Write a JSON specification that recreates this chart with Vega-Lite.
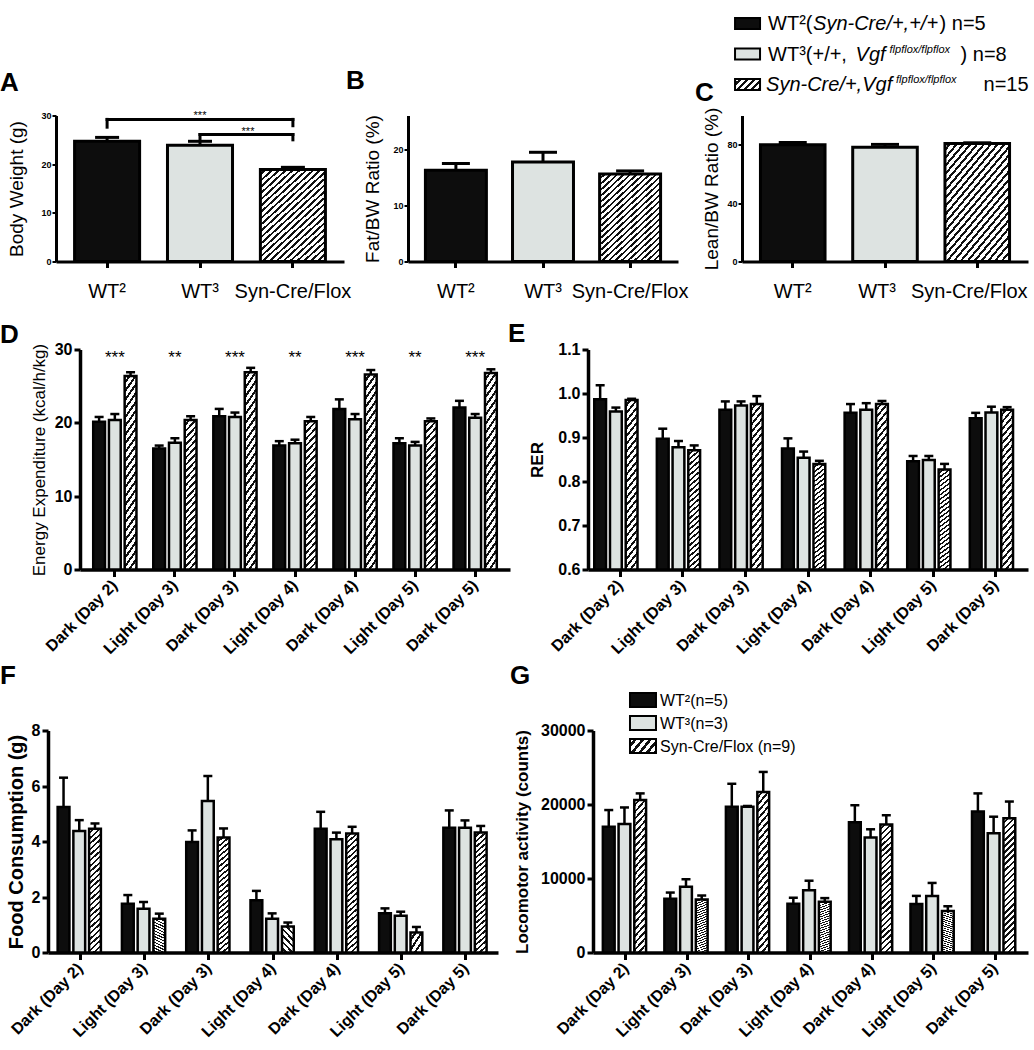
{
"$schema": "https://vega.github.io/schema/vega-lite/v6.json",
"padding": {"left": 0, "top": 13.5, "right": 0, "bottom": 0},
"background": "white",
"config": {
  "font": "Liberation Sans",
  "view": {"stroke": null},
  "axis": {"domainColor": "#000", "tickColor": "#000", "labelColor": "#000", "titleColor": "#000", "grid": false, "labelFont": "Liberation Sans", "titleFont": "Liberation Sans", "labelOverlap": false},
  "title": {"fontSize": 26, "fontWeight": "bold", "font": "Liberation Sans", "anchor": "start", "frame": "group", "baseline": "alphabetic", "color": "#000"},
  "text": {"font": "Liberation Sans", "color": "#000"}
},
"params": [
  {"name": "hatchTop", "value": {"gradient": "linear", "x1": 0, "y1": 0, "x2": 0.754, "y2": 1.16, "stops": [
{"offset":0,"color":"#fff"},{"offset":0.025,"color":"#fff"},{"offset":0.025,"color":"#111"},{"offset":0.0417,"color":"#111"},
{"offset":0.0417,"color":"#fff"},{"offset":0.0667,"color":"#fff"},{"offset":0.0667,"color":"#111"},{"offset":0.0833,"color":"#111"},
{"offset":0.0833,"color":"#fff"},{"offset":0.1083,"color":"#fff"},{"offset":0.1083,"color":"#111"},{"offset":0.125,"color":"#111"},
{"offset":0.125,"color":"#fff"},{"offset":0.15,"color":"#fff"},{"offset":0.15,"color":"#111"},{"offset":0.1667,"color":"#111"},
{"offset":0.1667,"color":"#fff"},{"offset":0.1917,"color":"#fff"},{"offset":0.1917,"color":"#111"},{"offset":0.2083,"color":"#111"},
{"offset":0.2083,"color":"#fff"},{"offset":0.2333,"color":"#fff"},{"offset":0.2333,"color":"#111"},{"offset":0.25,"color":"#111"},
{"offset":0.25,"color":"#fff"},{"offset":0.275,"color":"#fff"},{"offset":0.275,"color":"#111"},{"offset":0.2917,"color":"#111"},
{"offset":0.2917,"color":"#fff"},{"offset":0.3167,"color":"#fff"},{"offset":0.3167,"color":"#111"},{"offset":0.3333,"color":"#111"},
{"offset":0.3333,"color":"#fff"},{"offset":0.3583,"color":"#fff"},{"offset":0.3583,"color":"#111"},{"offset":0.375,"color":"#111"},
{"offset":0.375,"color":"#fff"},{"offset":0.4,"color":"#fff"},{"offset":0.4,"color":"#111"},{"offset":0.4167,"color":"#111"},
{"offset":0.4167,"color":"#fff"},{"offset":0.4417,"color":"#fff"},{"offset":0.4417,"color":"#111"},{"offset":0.4583,"color":"#111"},
{"offset":0.4583,"color":"#fff"},{"offset":0.4833,"color":"#fff"},{"offset":0.4833,"color":"#111"},{"offset":0.5,"color":"#111"},
{"offset":0.5,"color":"#fff"},{"offset":0.525,"color":"#fff"},{"offset":0.525,"color":"#111"},{"offset":0.5417,"color":"#111"},
{"offset":0.5417,"color":"#fff"},{"offset":0.5667,"color":"#fff"},{"offset":0.5667,"color":"#111"},{"offset":0.5833,"color":"#111"},
{"offset":0.5833,"color":"#fff"},{"offset":0.6083,"color":"#fff"},{"offset":0.6083,"color":"#111"},{"offset":0.625,"color":"#111"},
{"offset":0.625,"color":"#fff"},{"offset":0.65,"color":"#fff"},{"offset":0.65,"color":"#111"},{"offset":0.6667,"color":"#111"},
{"offset":0.6667,"color":"#fff"},{"offset":0.6917,"color":"#fff"},{"offset":0.6917,"color":"#111"},{"offset":0.7083,"color":"#111"},
{"offset":0.7083,"color":"#fff"},{"offset":0.7333,"color":"#fff"},{"offset":0.7333,"color":"#111"},{"offset":0.75,"color":"#111"},
{"offset":0.75,"color":"#fff"},{"offset":0.775,"color":"#fff"},{"offset":0.775,"color":"#111"},{"offset":0.7917,"color":"#111"},
{"offset":0.7917,"color":"#fff"},{"offset":0.8167,"color":"#fff"},{"offset":0.8167,"color":"#111"},{"offset":0.8333,"color":"#111"},
{"offset":0.8333,"color":"#fff"},{"offset":0.8583,"color":"#fff"},{"offset":0.8583,"color":"#111"},{"offset":0.875,"color":"#111"},
{"offset":0.875,"color":"#fff"},{"offset":0.9,"color":"#fff"},{"offset":0.9,"color":"#111"},{"offset":0.9167,"color":"#111"},
{"offset":0.9167,"color":"#fff"},{"offset":0.9417,"color":"#fff"},{"offset":0.9417,"color":"#111"},{"offset":0.9583,"color":"#111"},
{"offset":0.9583,"color":"#fff"},{"offset":0.9833,"color":"#fff"},{"offset":0.9833,"color":"#111"},{"offset":1,"color":"#111"}]}},
  {"name": "hatchLow", "value": {"gradient": "linear", "x1": 0, "y1": 0, "x2": 0.094, "y2": 1.079, "stops": [
{"offset":0,"color":"#fff"},{"offset":0.025,"color":"#fff"},{"offset":0.025,"color":"#111"},{"offset":0.0417,"color":"#111"},
{"offset":0.0417,"color":"#fff"},{"offset":0.0667,"color":"#fff"},{"offset":0.0667,"color":"#111"},{"offset":0.0833,"color":"#111"},
{"offset":0.0833,"color":"#fff"},{"offset":0.1083,"color":"#fff"},{"offset":0.1083,"color":"#111"},{"offset":0.125,"color":"#111"},
{"offset":0.125,"color":"#fff"},{"offset":0.15,"color":"#fff"},{"offset":0.15,"color":"#111"},{"offset":0.1667,"color":"#111"},
{"offset":0.1667,"color":"#fff"},{"offset":0.1917,"color":"#fff"},{"offset":0.1917,"color":"#111"},{"offset":0.2083,"color":"#111"},
{"offset":0.2083,"color":"#fff"},{"offset":0.2333,"color":"#fff"},{"offset":0.2333,"color":"#111"},{"offset":0.25,"color":"#111"},
{"offset":0.25,"color":"#fff"},{"offset":0.275,"color":"#fff"},{"offset":0.275,"color":"#111"},{"offset":0.2917,"color":"#111"},
{"offset":0.2917,"color":"#fff"},{"offset":0.3167,"color":"#fff"},{"offset":0.3167,"color":"#111"},{"offset":0.3333,"color":"#111"},
{"offset":0.3333,"color":"#fff"},{"offset":0.3583,"color":"#fff"},{"offset":0.3583,"color":"#111"},{"offset":0.375,"color":"#111"},
{"offset":0.375,"color":"#fff"},{"offset":0.4,"color":"#fff"},{"offset":0.4,"color":"#111"},{"offset":0.4167,"color":"#111"},
{"offset":0.4167,"color":"#fff"},{"offset":0.4417,"color":"#fff"},{"offset":0.4417,"color":"#111"},{"offset":0.4583,"color":"#111"},
{"offset":0.4583,"color":"#fff"},{"offset":0.4833,"color":"#fff"},{"offset":0.4833,"color":"#111"},{"offset":0.5,"color":"#111"},
{"offset":0.5,"color":"#fff"},{"offset":0.525,"color":"#fff"},{"offset":0.525,"color":"#111"},{"offset":0.5417,"color":"#111"},
{"offset":0.5417,"color":"#fff"},{"offset":0.5667,"color":"#fff"},{"offset":0.5667,"color":"#111"},{"offset":0.5833,"color":"#111"},
{"offset":0.5833,"color":"#fff"},{"offset":0.6083,"color":"#fff"},{"offset":0.6083,"color":"#111"},{"offset":0.625,"color":"#111"},
{"offset":0.625,"color":"#fff"},{"offset":0.65,"color":"#fff"},{"offset":0.65,"color":"#111"},{"offset":0.6667,"color":"#111"},
{"offset":0.6667,"color":"#fff"},{"offset":0.6917,"color":"#fff"},{"offset":0.6917,"color":"#111"},{"offset":0.7083,"color":"#111"},
{"offset":0.7083,"color":"#fff"},{"offset":0.7333,"color":"#fff"},{"offset":0.7333,"color":"#111"},{"offset":0.75,"color":"#111"},
{"offset":0.75,"color":"#fff"},{"offset":0.775,"color":"#fff"},{"offset":0.775,"color":"#111"},{"offset":0.7917,"color":"#111"},
{"offset":0.7917,"color":"#fff"},{"offset":0.8167,"color":"#fff"},{"offset":0.8167,"color":"#111"},{"offset":0.8333,"color":"#111"},
{"offset":0.8333,"color":"#fff"},{"offset":0.8583,"color":"#fff"},{"offset":0.8583,"color":"#111"},{"offset":0.875,"color":"#111"},
{"offset":0.875,"color":"#fff"},{"offset":0.9,"color":"#fff"},{"offset":0.9,"color":"#111"},{"offset":0.9167,"color":"#111"},
{"offset":0.9167,"color":"#fff"},{"offset":0.9417,"color":"#fff"},{"offset":0.9417,"color":"#111"},{"offset":0.9583,"color":"#111"},
{"offset":0.9583,"color":"#fff"},{"offset":0.9833,"color":"#fff"},{"offset":0.9833,"color":"#111"},{"offset":1,"color":"#111"}]}},
  {"name": "hatchSw", "value": {"gradient": "linear", "x1": 0, "y1": 0, "x2": 1.208, "y2": 0.532, "stops": [
{"offset":0,"color":"#fff"},{"offset":0.11,"color":"#fff"},{"offset":0.11,"color":"#111"},{"offset":0.2,"color":"#111"},
{"offset":0.2,"color":"#fff"},{"offset":0.31,"color":"#fff"},{"offset":0.31,"color":"#111"},{"offset":0.4,"color":"#111"},
{"offset":0.4,"color":"#fff"},{"offset":0.51,"color":"#fff"},{"offset":0.51,"color":"#111"},{"offset":0.6,"color":"#111"},
{"offset":0.6,"color":"#fff"},{"offset":0.71,"color":"#fff"},{"offset":0.71,"color":"#111"},{"offset":0.8,"color":"#111"},
{"offset":0.8,"color":"#fff"},{"offset":0.91,"color":"#fff"},{"offset":0.91,"color":"#111"},{"offset":1,"color":"#111"}]}}
],
"datasets": {
  "bw": [
    {"lab": "WT²", "g": "WT2", "v": 24.7, "hi": 25.5},
    {"lab": "WT³", "g": "WT3", "v": 23.9, "hi": 24.7},
    {"lab": "Syn-Cre/Flox", "g": "KO", "v": 18.9, "hi": 19.35}
  ],
  "fat": [
    {"lab": "WT²", "g": "WT2", "v": 16.25, "hi": 17.45},
    {"lab": "WT³", "g": "WT3", "v": 17.73, "hi": 19.45},
    {"lab": "Syn-Cre/Flox", "g": "KO", "v": 15.56, "hi": 16.13}
  ],
  "lean": [
    {"lab": "WT²", "g": "WT2", "v": 80.0, "hi": 81.5},
    {"lab": "WT³", "g": "WT3", "v": 78.3, "hi": 80.2},
    {"lab": "Syn-Cre/Flox", "g": "KO", "v": 80.8, "hi": 81.3}
  ],
  "bwBrH": [
    {"a": "WT²", "b": "Syn-Cre/Flox", "y": 29.2},
    {"a": "WT³", "b": "Syn-Cre/Flox", "y": 26.1}
  ],
  "bwBrV": [
    {"a": "WT²", "top": 29.2, "bot": 27.6},
    {"a": "Syn-Cre/Flox", "top": 29.2, "bot": 27.9},
    {"a": "WT³", "top": 26.1, "bot": 25.0},
    {"a": "Syn-Cre/Flox", "top": 26.1, "bot": 25.0}
  ],
  "bwStar": [
    {"a": "WT³", "y": 29.2, "s": "***", "n": 1},
    {"a": "WT³", "y": 26.1, "s": "***", "n": 2}
  ],
  "legT": [
    {"k": "WT2", "t1": "WT²(", "it": "Syn-Cre/+,+/+", "t3": ") n=5"},
    {"k": "WT3", "t1": "WT³(+/+,", "it": "Vgf", "sup": "flpflox/flpflox", "t3": ") n=8"},
    {"k": "KO", "it": "Syn-Cre/+,Vgf", "sup": "flpflox/flpflox", "t3": "n=15"}
  ],
  "legG": [
    {"k": "WT2", "t": "WT²(n=5)"},
    {"k": "WT3", "t": "WT³(n=3)"},
    {"k": "KO", "t": "Syn-Cre/Flox (n=9)"}
  ],
  "ee": [
    {"p": "Dark (Day 2)", "g": "WT2", "v": 20.15, "hi": 20.8},
    {"p": "Dark (Day 2)", "g": "WT3", "v": 20.4, "hi": 21.2},
    {"p": "Dark (Day 2)", "g": "KO", "v": 26.4, "hi": 26.9},
    {"p": "Light (Day 3)", "g": "WT2", "v": 16.5, "hi": 16.9},
    {"p": "Light (Day 3)", "g": "WT3", "v": 17.3, "hi": 17.9},
    {"p": "Light (Day 3)", "g": "KO", "v": 20.4, "hi": 20.9},
    {"p": "Dark (Day 3)", "g": "WT2", "v": 20.9, "hi": 21.9},
    {"p": "Dark (Day 3)", "g": "WT3", "v": 20.8, "hi": 21.4},
    {"p": "Dark (Day 3)", "g": "KO", "v": 26.9, "hi": 27.5},
    {"p": "Light (Day 4)", "g": "WT2", "v": 16.9, "hi": 17.5},
    {"p": "Light (Day 4)", "g": "WT3", "v": 17.2, "hi": 17.7},
    {"p": "Light (Day 4)", "g": "KO", "v": 20.2, "hi": 20.8},
    {"p": "Dark (Day 4)", "g": "WT2", "v": 21.9, "hi": 23.2},
    {"p": "Dark (Day 4)", "g": "WT3", "v": 20.5, "hi": 21.2},
    {"p": "Dark (Day 4)", "g": "KO", "v": 26.6, "hi": 27.2},
    {"p": "Light (Day 5)", "g": "WT2", "v": 17.2, "hi": 17.9},
    {"p": "Light (Day 5)", "g": "WT3", "v": 16.9, "hi": 17.4},
    {"p": "Light (Day 5)", "g": "KO", "v": 20.2, "hi": 20.6},
    {"p": "Dark (Day 5)", "g": "WT2", "v": 22.1, "hi": 23.0},
    {"p": "Dark (Day 5)", "g": "WT3", "v": 20.7, "hi": 21.2},
    {"p": "Dark (Day 5)", "g": "KO", "v": 26.8, "hi": 27.3}
  ],
  "eeSig": [
    {"p": "Dark (Day 2)", "s": "***"},
    {"p": "Light (Day 3)", "s": "**"},
    {"p": "Dark (Day 3)", "s": "***"},
    {"p": "Light (Day 4)", "s": "**"},
    {"p": "Dark (Day 4)", "s": "***"},
    {"p": "Light (Day 5)", "s": "**"},
    {"p": "Dark (Day 5)", "s": "***"}
  ],
  "rer": [
    {"p": "Dark (Day 2)", "g": "WT2", "v": 0.987, "hi": 1.019},
    {"p": "Dark (Day 2)", "g": "WT3", "v": 0.959, "hi": 0.968},
    {"p": "Dark (Day 2)", "g": "KO", "v": 0.985, "hi": 0.988},
    {"p": "Light (Day 3)", "g": "WT2", "v": 0.897, "hi": 0.920},
    {"p": "Light (Day 3)", "g": "WT3", "v": 0.878, "hi": 0.892},
    {"p": "Light (Day 3)", "g": "KO", "v": 0.871, "hi": 0.882},
    {"p": "Dark (Day 3)", "g": "WT2", "v": 0.963, "hi": 0.982},
    {"p": "Dark (Day 3)", "g": "WT3", "v": 0.973, "hi": 0.982},
    {"p": "Dark (Day 3)", "g": "KO", "v": 0.976, "hi": 0.994},
    {"p": "Light (Day 4)", "g": "WT2", "v": 0.875, "hi": 0.898},
    {"p": "Light (Day 4)", "g": "WT3", "v": 0.854, "hi": 0.868},
    {"p": "Light (Day 4)", "g": "KO", "v": 0.840, "hi": 0.847},
    {"p": "Dark (Day 4)", "g": "WT2", "v": 0.956, "hi": 0.976},
    {"p": "Dark (Day 4)", "g": "WT3", "v": 0.963, "hi": 0.978},
    {"p": "Dark (Day 4)", "g": "KO", "v": 0.976, "hi": 0.983},
    {"p": "Light (Day 5)", "g": "WT2", "v": 0.846, "hi": 0.858},
    {"p": "Light (Day 5)", "g": "WT3", "v": 0.849, "hi": 0.858},
    {"p": "Light (Day 5)", "g": "KO", "v": 0.827, "hi": 0.840},
    {"p": "Dark (Day 5)", "g": "WT2", "v": 0.944, "hi": 0.956},
    {"p": "Dark (Day 5)", "g": "WT3", "v": 0.957, "hi": 0.970},
    {"p": "Dark (Day 5)", "g": "KO", "v": 0.963, "hi": 0.969}
  ],
  "food": [
    {"p": "Dark (Day 2)", "g": "WT2", "v": 5.24, "hi": 6.3},
    {"p": "Dark (Day 2)", "g": "WT3", "v": 4.38, "hi": 4.77},
    {"p": "Dark (Day 2)", "g": "KO", "v": 4.46, "hi": 4.65},
    {"p": "Light (Day 3)", "g": "WT2", "v": 1.76, "hi": 2.07},
    {"p": "Light (Day 3)", "g": "WT3", "v": 1.58, "hi": 1.82},
    {"p": "Light (Day 3)", "g": "KO", "v": 1.22, "hi": 1.40},
    {"p": "Dark (Day 3)", "g": "WT2", "v": 3.98, "hi": 4.40},
    {"p": "Dark (Day 3)", "g": "WT3", "v": 5.46, "hi": 6.36},
    {"p": "Dark (Day 3)", "g": "KO", "v": 4.14, "hi": 4.47},
    {"p": "Light (Day 4)", "g": "WT2", "v": 1.88, "hi": 2.22},
    {"p": "Light (Day 4)", "g": "WT3", "v": 1.22, "hi": 1.41},
    {"p": "Light (Day 4)", "g": "KO", "v": 0.94, "hi": 1.08},
    {"p": "Dark (Day 4)", "g": "WT2", "v": 4.46, "hi": 5.07},
    {"p": "Dark (Day 4)", "g": "WT3", "v": 4.08, "hi": 4.32},
    {"p": "Dark (Day 4)", "g": "KO", "v": 4.29, "hi": 4.53},
    {"p": "Light (Day 5)", "g": "WT2", "v": 1.41, "hi": 1.59},
    {"p": "Light (Day 5)", "g": "WT3", "v": 1.32, "hi": 1.47},
    {"p": "Light (Day 5)", "g": "KO", "v": 0.72, "hi": 0.92},
    {"p": "Dark (Day 5)", "g": "WT2", "v": 4.5, "hi": 5.12},
    {"p": "Dark (Day 5)", "g": "WT3", "v": 4.5, "hi": 4.76},
    {"p": "Dark (Day 5)", "g": "KO", "v": 4.32, "hi": 4.56}
  ],
  "loco": [
    {"p": "Dark (Day 2)", "g": "WT2", "v": 17000, "hi": 19250},
    {"p": "Dark (Day 2)", "g": "WT3", "v": 17350, "hi": 19600},
    {"p": "Dark (Day 2)", "g": "KO", "v": 20600, "hi": 21500},
    {"p": "Light (Day 3)", "g": "WT2", "v": 7250, "hi": 8100},
    {"p": "Light (Day 3)", "g": "WT3", "v": 8900, "hi": 9900},
    {"p": "Light (Day 3)", "g": "KO", "v": 7150, "hi": 7700},
    {"p": "Dark (Day 3)", "g": "WT2", "v": 19700, "hi": 22800},
    {"p": "Dark (Day 3)", "g": "WT3", "v": 19700, "hi": 19800},
    {"p": "Dark (Day 3)", "g": "KO", "v": 21700, "hi": 24400},
    {"p": "Light (Day 4)", "g": "WT2", "v": 6600, "hi": 7400},
    {"p": "Light (Day 4)", "g": "WT3", "v": 8400, "hi": 9700},
    {"p": "Light (Day 4)", "g": "KO", "v": 6850, "hi": 7350},
    {"p": "Dark (Day 4)", "g": "WT2", "v": 17600, "hi": 19900},
    {"p": "Dark (Day 4)", "g": "WT3", "v": 15550, "hi": 16650},
    {"p": "Dark (Day 4)", "g": "KO", "v": 17300, "hi": 18550},
    {"p": "Light (Day 5)", "g": "WT2", "v": 6550, "hi": 7650},
    {"p": "Light (Day 5)", "g": "WT3", "v": 7650, "hi": 9400},
    {"p": "Light (Day 5)", "g": "KO", "v": 5600, "hi": 6250},
    {"p": "Dark (Day 5)", "g": "WT2", "v": 19050, "hi": 21500},
    {"p": "Dark (Day 5)", "g": "WT3", "v": 16100, "hi": 18350},
    {"p": "Dark (Day 5)", "g": "KO", "v": 18150, "hi": 20400}
  ]
},
"spacing": 19,
"vconcat": [
 {"hconcat": [
  {"width": 56, "height": 1, "data": {"values": [{}]}, "mark": {"type": "rect", "opacity": 0}, "encoding": {}},
  {"hconcat": [
  {"width": 288, "height": 146,
   "title": {"text": "A", "dx": -56, "offset": 14},
   "layer": [
    {"data": {"name": "bw"}, "transform": [{"filter": "datum.g !== 'KO'"}],
     "mark": {"type": "bar", "stroke": "#000", "strokeWidth": 3},
     "encoding": {
      "x": {"field": "lab", "type": "nominal", "scale": {"domain": ["WT²", "WT³", "Syn-Cre/Flox"], "paddingInner": 0.3, "paddingOuter": 0.2},
            "axis": {"title": null, "labelAngle": 0, "labelFontSize": 20, "labelPadding": 14, "tickSize": 6, "tickWidth": 3, "domainWidth": 3}},
      "y": {"field": "v", "type": "quantitative", "scale": {"domain": [0, 30]},
            "axis": {"title": "Body Weight (g)", "titleFontSize": 19, "titleFontWeight": "normal", "titlePadding": 14.5, "labelFontSize": 9, "labelFontWeight": "bold", "labelPadding": 1, "tickSize": 4, "tickWidth": 2, "domainWidth": 3, "values": [0, 10, 20, 30]}},
      "fill": {"condition": {"test": "datum.g === 'WT2'", "value": "#0d0d0d"}, "value": "#dde3e1"}}},
    {"data": {"name": "bw"}, "transform": [{"filter": "datum.g === 'KO'"}],
     "mark": {"type": "bar", "stroke": "#000", "strokeWidth": 3, "fill": {"expr": "hatchTop"}},
     "encoding": {"x": {"field": "lab", "type": "nominal"}, "y": {"field": "v", "type": "quantitative"}}},
    {"data": {"name": "bw"}, "mark": {"type": "rule", "color": "#000", "strokeWidth": 3},
     "encoding": {"x": {"field": "lab", "type": "nominal"}, "y": {"field": "v", "type": "quantitative"}, "y2": {"field": "hi"}}},
    {"data": {"name": "bw"}, "mark": {"type": "tick", "color": "#000", "thickness": 3, "size": 24, "opacity": 1},
     "encoding": {"x": {"field": "lab", "type": "nominal"}, "y": {"field": "hi", "type": "quantitative"}}},
    {"data": {"name": "bwBrH"}, "mark": {"type": "rule", "color": "#000", "strokeWidth": 3, "strokeCap": "square"},
     "encoding": {"x": {"field": "a", "type": "nominal"}, "x2": {"field": "b"}, "y": {"field": "y", "type": "quantitative"}}},
    {"data": {"name": "bwBrV"}, "mark": {"type": "rule", "color": "#000", "strokeWidth": 3, "strokeCap": "square"},
     "encoding": {"x": {"field": "a", "type": "nominal"}, "y": {"field": "top", "type": "quantitative"}, "y2": {"field": "bot"}}},
    {"data": {"name": "bwStar"}, "transform": [{"filter": "datum.n === 1"}],
     "mark": {"type": "text", "fontSize": 11, "baseline": "alphabetic", "dy": 0},
     "encoding": {"x": {"field": "a", "type": "nominal"}, "y": {"field": "y", "type": "quantitative"}, "text": {"field": "s"}}},
    {"data": {"name": "bwStar"}, "transform": [{"filter": "datum.n === 2"}],
     "mark": {"type": "text", "fontSize": 11, "baseline": "alphabetic", "dx": 48, "dy": 1},
     "encoding": {"x": {"field": "a", "type": "nominal"}, "y": {"field": "y", "type": "quantitative"}, "text": {"field": "s"}}}
   ]},
  {"width": 270, "height": 146,
   "title": {"text": "B", "dx": -62, "offset": 21},
   "layer": [
    {"data": {"name": "fat"}, "transform": [{"filter": "datum.g !== 'KO'"}],
     "mark": {"type": "bar", "stroke": "#000", "strokeWidth": 3},
     "encoding": {
      "x": {"field": "lab", "type": "nominal", "scale": {"domain": ["WT²", "WT³", "Syn-Cre/Flox"], "paddingInner": 0.3, "paddingOuter": 0.2},
            "axis": {"title": null, "labelAngle": 0, "labelFontSize": 20, "labelPadding": 14, "tickSize": 6, "tickWidth": 3, "domainWidth": 3}},
      "y": {"field": "v", "type": "quantitative", "scale": {"domain": [0, 25]},
            "axis": {"title": "Fat/BW Ratio (%)", "titleFontSize": 19, "titleFontWeight": "normal", "titlePadding": 10.5, "labelFontSize": 9, "labelFontWeight": "bold", "labelPadding": 1, "tickSize": 4, "tickWidth": 2, "domainWidth": 3, "values": [0, 5, 10, 15, 20, 25]}},
      "fill": {"condition": {"test": "datum.g === 'WT2'", "value": "#0d0d0d"}, "value": "#dde3e1"}}},
    {"data": {"name": "fat"}, "transform": [{"filter": "datum.g === 'KO'"}],
     "mark": {"type": "bar", "stroke": "#000", "strokeWidth": 3, "fill": {"expr": "hatchTop"}},
     "encoding": {"x": {"field": "lab", "type": "nominal"}, "y": {"field": "v", "type": "quantitative"}}},
    {"data": {"name": "fat"}, "mark": {"type": "rule", "color": "#000", "strokeWidth": 3},
     "encoding": {"x": {"field": "lab", "type": "nominal"}, "y": {"field": "v", "type": "quantitative"}, "y2": {"field": "hi"}}},
    {"data": {"name": "fat"}, "mark": {"type": "tick", "color": "#000", "thickness": 3, "size": 28, "opacity": 1},
     "encoding": {"x": {"field": "lab", "type": "nominal"}, "y": {"field": "hi", "type": "quantitative"}}}
   ]},
  {"width": 286, "height": 146,
   "title": {"text": "C", "dx": -47, "offset": -91.5},
   "resolve": {"scale": {"y": "independent"}},
   "layer": [
    {"data": {"name": "lean"},
     "layer": [
      {"transform": [{"filter": "datum.g !== 'KO'"}],
       "mark": {"type": "bar", "stroke": "#000", "strokeWidth": 3},
       "encoding": {
        "x": {"field": "lab", "type": "nominal", "scale": {"domain": ["WT²", "WT³", "Syn-Cre/Flox"], "paddingInner": 0.3, "paddingOuter": 0.2},
              "axis": {"title": null, "labelAngle": 0, "labelFontSize": 20, "labelPadding": 14, "tickSize": 6, "tickWidth": 3, "domainWidth": 3,
                       "labelOffset": {"condition": {"test": "datum.label !== 'WT²'", "value": -8}, "value": 0}}},
        "y": {"field": "v", "type": "quantitative", "scale": {"domain": [0, 100]},
              "axis": {"title": "Lean/BW Ratio (%)", "titleFontSize": 19, "titleFontWeight": "normal", "titlePadding": 5.5, "labelFontSize": 9, "labelFontWeight": "bold", "labelPadding": 1, "tickSize": 4, "tickWidth": 2, "domainWidth": 3, "values": [0, 20, 40, 60, 80, 100]}},
        "fill": {"condition": {"test": "datum.g === 'WT2'", "value": "#0d0d0d"}, "value": "#dde3e1"}}},
      {"transform": [{"filter": "datum.g === 'KO'"}],
       "mark": {"type": "bar", "stroke": "#000", "strokeWidth": 3, "fill": {"expr": "hatchTop"}},
       "encoding": {"x": {"field": "lab", "type": "nominal"}, "y": {"field": "v", "type": "quantitative"}}},
      {"mark": {"type": "rule", "color": "#000", "strokeWidth": 3},
       "encoding": {"x": {"field": "lab", "type": "nominal"}, "y": {"field": "v", "type": "quantitative"}, "y2": {"field": "hi"}}},
      {"mark": {"type": "tick", "color": "#000", "thickness": 3, "size": 28, "opacity": 1},
       "encoding": {"x": {"field": "lab", "type": "nominal"}, "y": {"field": "hi", "type": "quantitative"}}}
     ]},
    {"data": {"name": "legT"},
     "encoding": {
      "x": {"datum": "WT²", "type": "nominal", "bandPosition": -0.2},
      "y": {"field": "k", "type": "nominal", "scale": {"type": "point", "domain": ["WT2", "WT3", "KO"], "range": [-92, -31], "padding": 0}, "axis": null}},
     "layer": [
      {"transform": [{"filter": "datum.k !== 'KO'"}],
       "mark": {"type": "point", "shape": "M-1,-0.44H1V0.44H-1Z", "size": 625, "filled": true, "stroke": "#000", "strokeWidth": 2, "opacity": 1},
       "encoding": {"fill": {"condition": {"test": "datum.k === 'WT2'", "value": "#0d0d0d"}, "value": "#dde3e1"}}},
      {"transform": [{"filter": "datum.k === 'KO'"}],
       "mark": {"type": "point", "shape": "M-1,-0.44H1V0.44H-1Z", "size": 625, "filled": true, "stroke": "#000", "strokeWidth": 2, "opacity": 1, "fill": {"expr": "hatchSw"}}},
      {"transform": [{"filter": "datum.t1"}],
       "mark": {"type": "text", "fontSize": 20, "align": "left", "baseline": "alphabetic", "dx": 20.5, "dy": 6.5},
       "encoding": {"text": {"field": "t1"}}},
      {"transform": [{"filter": "datum.k === 'WT2'"}],
       "mark": {"type": "text", "fontSize": 20, "fontStyle": "italic", "align": "left", "baseline": "alphabetic", "dx": 65.5, "dy": 6.5},
       "encoding": {"text": {"field": "it"}}},
      {"transform": [{"filter": "datum.k === 'WT3'"}],
       "mark": {"type": "text", "fontSize": 20, "fontStyle": "italic", "align": "left", "baseline": "alphabetic", "dx": 108, "dy": 6.5},
       "encoding": {"text": {"field": "it"}}},
      {"transform": [{"filter": "datum.k === 'KO'"}],
       "mark": {"type": "text", "fontSize": 20, "fontStyle": "italic", "align": "left", "baseline": "alphabetic", "dx": 18.5, "dy": 6.5},
       "encoding": {"text": {"field": "it"}}},
      {"transform": [{"filter": "datum.k === 'WT3'"}],
       "mark": {"type": "text", "fontSize": 11, "fontStyle": "italic", "align": "left", "baseline": "alphabetic", "dx": 142, "dy": -1.5},
       "encoding": {"text": {"field": "sup"}}},
      {"transform": [{"filter": "datum.k === 'KO'"}],
       "mark": {"type": "text", "fontSize": 11, "fontStyle": "italic", "align": "left", "baseline": "alphabetic", "dx": 148.5, "dy": -1.5},
       "encoding": {"text": {"field": "sup"}}},
      {"transform": [{"filter": "datum.k === 'WT2'"}],
       "mark": {"type": "text", "fontSize": 20, "align": "left", "baseline": "alphabetic", "dx": 192, "dy": 6.5},
       "encoding": {"text": {"field": "t3"}}},
      {"transform": [{"filter": "datum.k === 'WT3'"}],
       "mark": {"type": "text", "fontSize": 20, "align": "left", "baseline": "alphabetic", "dx": 213, "dy": 6.5},
       "encoding": {"text": {"field": "t3"}}},
      {"transform": [{"filter": "datum.k === 'KO'"}],
       "mark": {"type": "text", "fontSize": 20, "align": "left", "baseline": "alphabetic", "dx": 236, "dy": 6.5},
       "encoding": {"text": {"field": "t3"}}}
     ]}
   ]}
  ], "spacing": 64, "bounds": "flush"}
 ], "spacing": 0, "bounds": "flush"},
 {"vconcat": [
  {"hconcat": [
   {"width": 80, "height": 1, "data": {"values": [{}]}, "mark": {"type": "rect", "opacity": 0}, "encoding": {}},
   {"hconcat": [
   {"width": 430, "height": 220,
    "title": {"text": "D", "dx": -80, "offset": -6},
    "layer": [
     {"data": {"name": "ee"}, "transform": [{"filter": "datum.g !== 'KO'"}],
      "mark": {"type": "bar", "stroke": "#000", "strokeWidth": 2.5},
      "encoding": {
       "x": {"field": "p", "type": "nominal", "scale": {"domain": ["Dark (Day 2)", "Light (Day 3)", "Dark (Day 3)", "Light (Day 4)", "Dark (Day 4)", "Light (Day 5)", "Dark (Day 5)"], "paddingInner": 0.28, "paddingOuter": 0.22},
             "axis": {"title": null, "labelAngle": -45, "labelAlign": "right", "labelBaseline": "middle", "labelFontSize": 16, "labelFontWeight": "bold", "labelPadding": 6, "tickSize": 7, "tickWidth": 3, "domainWidth": 3.5}},
       "xOffset": {"field": "g", "type": "nominal", "scale": {"domain": ["WT2", "WT3", "KO"], "paddingInner": 0.25, "paddingOuter": 0}},
       "y": {"field": "v", "type": "quantitative", "scale": {"domain": [0, 30]},
             "axis": {"title": "Energy Expenditure (kcal/h/kg)", "titleFontSize": 17, "titleFontWeight": "normal", "titlePadding": 5.7, "labelFontSize": 16, "labelFontWeight": "bold", "labelPadding": 2, "tickSize": 6, "tickWidth": 3, "domainWidth": 3.5, "values": [0, 10, 20, 30]}},
       "fill": {"condition": {"test": "datum.g === 'WT2'", "value": "#0d0d0d"}, "value": "#dde3e1"}}},
     {"data": {"name": "ee"}, "transform": [{"filter": "datum.g === 'KO'"}],
      "mark": {"type": "bar", "stroke": "#000", "strokeWidth": 2.5, "fill": {"expr": "hatchLow"}},
      "encoding": {"x": {"field": "p", "type": "nominal"}, "xOffset": {"field": "g", "type": "nominal"}, "y": {"field": "v", "type": "quantitative"}}},
     {"data": {"name": "ee"}, "mark": {"type": "rule", "color": "#000", "strokeWidth": 2.5},
      "encoding": {"x": {"field": "p", "type": "nominal"}, "xOffset": {"field": "g", "type": "nominal"}, "y": {"field": "v", "type": "quantitative"}, "y2": {"field": "hi"}}},
     {"data": {"name": "ee"}, "mark": {"type": "tick", "color": "#000", "thickness": 2.5, "size": 9, "opacity": 1},
      "encoding": {"x": {"field": "p", "type": "nominal"}, "xOffset": {"field": "g", "type": "nominal"}, "y": {"field": "hi", "type": "quantitative"}}},
     {"data": {"name": "eeSig"}, "mark": {"type": "text", "fontSize": 17, "baseline": "alphabetic"},
      "encoding": {"x": {"field": "p", "type": "nominal"}, "y": {"datum": 28.2}, "text": {"field": "s"}}}
    ]},
   {"width": 440, "height": 220,
    "title": {"text": "E", "dx": -80, "offset": -5},
    "layer": [
     {"data": {"name": "rer"}, "transform": [{"filter": "datum.g !== 'KO'"}],
      "mark": {"type": "bar", "stroke": "#000", "strokeWidth": 2.5},
      "encoding": {
       "x": {"field": "p", "type": "nominal", "scale": {"domain": ["Dark (Day 2)", "Light (Day 3)", "Dark (Day 3)", "Light (Day 4)", "Dark (Day 4)", "Light (Day 5)", "Dark (Day 5)"], "paddingInner": 0.17, "paddingOuter": 0.1},
             "axis": {"title": null, "labelAngle": -45, "labelAlign": "right", "labelBaseline": "middle", "labelFontSize": 16, "labelFontWeight": "bold", "labelPadding": 6, "tickSize": 7, "tickWidth": 3, "domainWidth": 3.5}},
       "xOffset": {"field": "g", "type": "nominal", "scale": {"domain": ["WT2", "WT3", "KO"], "paddingInner": 0.2, "paddingOuter": 0}},
       "y": {"field": "v", "type": "quantitative", "scale": {"domain": [0.6, 1.1]},
             "axis": {"title": "RER", "titleFontSize": 17, "titleFontWeight": "bold", "titlePadding": 11.5, "labelFontSize": 16, "labelFontWeight": "bold", "labelPadding": 2, "tickSize": 6, "tickWidth": 3, "domainWidth": 3.5, "values": [0.6, 0.7, 0.8, 0.9, 1.0, 1.1], "format": ".1f"}},
       "y2": {"datum": 0.6},
       "fill": {"condition": {"test": "datum.g === 'WT2'", "value": "#0d0d0d"}, "value": "#dde3e1"}}},
     {"data": {"name": "rer"}, "transform": [{"filter": "datum.g === 'KO'"}],
      "mark": {"type": "bar", "stroke": "#000", "strokeWidth": 2.5, "fill": {"expr": "hatchLow"}},
      "encoding": {"x": {"field": "p", "type": "nominal"}, "xOffset": {"field": "g", "type": "nominal"}, "y": {"field": "v", "type": "quantitative"}, "y2": {"datum": 0.6}}},
     {"data": {"name": "rer"}, "mark": {"type": "rule", "color": "#000", "strokeWidth": 2.5},
      "encoding": {"x": {"field": "p", "type": "nominal"}, "xOffset": {"field": "g", "type": "nominal"}, "y": {"field": "v", "type": "quantitative"}, "y2": {"field": "hi"}}},
     {"data": {"name": "rer"}, "mark": {"type": "tick", "color": "#000", "thickness": 2.5, "size": 9, "opacity": 1},
      "encoding": {"x": {"field": "p", "type": "nominal"}, "xOffset": {"field": "g", "type": "nominal"}, "y": {"field": "hi", "type": "quantitative"}}}
    ]}
   ], "spacing": 78, "bounds": "flush"}
  ], "spacing": 0, "bounds": "flush"},
  {"hconcat": [
   {"width": 48, "height": 1, "data": {"values": [{}]}, "mark": {"type": "rect", "opacity": 0}, "encoding": {}},
   {"hconcat": [
   {"width": 450, "height": 222,
    "title": {"text": "F", "dx": -48, "offset": 34},
    "layer": [
     {"data": {"name": "food"}, "transform": [{"filter": "datum.g !== 'KO'"}],
      "mark": {"type": "bar", "stroke": "#000", "strokeWidth": 2.5},
      "encoding": {
       "x": {"field": "p", "type": "nominal", "scale": {"domain": ["Dark (Day 2)", "Light (Day 3)", "Dark (Day 3)", "Light (Day 4)", "Dark (Day 4)", "Light (Day 5)", "Dark (Day 5)"], "paddingInner": 0.3, "paddingOuter": 0.15},
             "axis": {"title": null, "labelAngle": -45, "labelAlign": "right", "labelBaseline": "middle", "labelFontSize": 16, "labelFontWeight": "bold", "labelPadding": 6, "tickSize": 7, "tickWidth": 3, "domainWidth": 3.5}},
       "xOffset": {"field": "g", "type": "nominal", "scale": {"domain": ["WT2", "WT3", "KO"], "paddingInner": 0.22, "paddingOuter": 0}},
       "y": {"field": "v", "type": "quantitative", "scale": {"domain": [0, 8]},
             "axis": {"title": "Food Consumption (g)", "titleFontSize": 20, "titleFontWeight": "bold", "titlePadding": 5, "labelFontSize": 16, "labelFontWeight": "bold", "labelPadding": 2, "tickSize": 6, "tickWidth": 3, "domainWidth": 3.5, "values": [0, 2, 4, 6, 8]}},
       "fill": {"condition": {"test": "datum.g === 'WT2'", "value": "#0d0d0d"}, "value": "#dde3e1"}}},
     {"data": {"name": "food"}, "transform": [{"filter": "datum.g === 'KO'"}],
      "mark": {"type": "bar", "stroke": "#000", "strokeWidth": 2.5, "fill": {"expr": "hatchLow"}},
      "encoding": {"x": {"field": "p", "type": "nominal"}, "xOffset": {"field": "g", "type": "nominal"}, "y": {"field": "v", "type": "quantitative"}}},
     {"data": {"name": "food"}, "mark": {"type": "rule", "color": "#000", "strokeWidth": 2.5},
      "encoding": {"x": {"field": "p", "type": "nominal"}, "xOffset": {"field": "g", "type": "nominal"}, "y": {"field": "v", "type": "quantitative"}, "y2": {"field": "hi"}}},
     {"data": {"name": "food"}, "mark": {"type": "tick", "color": "#000", "thickness": 2.5, "size": 9, "opacity": 1},
      "encoding": {"x": {"field": "p", "type": "nominal"}, "xOffset": {"field": "g", "type": "nominal"}, "y": {"field": "hi", "type": "quantitative"}}}
    ]},
   {"width": 435, "height": 222,
    "title": {"text": "G", "dx": -83, "offset": 0},
    "resolve": {"scale": {"y": "independent"}},
    "layer": [
     {"data": {"name": "loco"},
      "layer": [
       {"transform": [{"filter": "datum.g !== 'KO'"}],
        "mark": {"type": "bar", "stroke": "#000", "strokeWidth": 2.5},
        "encoding": {
         "x": {"field": "p", "type": "nominal", "scale": {"domain": ["Dark (Day 2)", "Light (Day 3)", "Dark (Day 3)", "Light (Day 4)", "Dark (Day 4)", "Light (Day 5)", "Dark (Day 5)"], "paddingInner": 0.25, "paddingOuter": 0.16},
               "axis": {"title": null, "labelAngle": -45, "labelAlign": "right", "labelBaseline": "middle", "labelFontSize": 16, "labelFontWeight": "bold", "labelPadding": 6, "tickSize": 7, "tickWidth": 3, "domainWidth": 3.5}},
         "xOffset": {"field": "g", "type": "nominal", "scale": {"domain": ["WT2", "WT3", "KO"], "paddingInner": 0.22, "paddingOuter": 0}},
         "y": {"field": "v", "type": "quantitative", "scale": {"domain": [0, 30000]},
               "axis": {"title": "Locomotor activity (counts)", "titleFontSize": 17, "titleFontWeight": "bold", "titlePadding": 9, "labelFontSize": 16, "labelFontWeight": "bold", "labelPadding": 2, "tickSize": 6, "tickWidth": 3, "domainWidth": 3.5, "values": [0, 10000, 20000, 30000], "format": "d"}},
         "fill": {"condition": {"test": "datum.g === 'WT2'", "value": "#0d0d0d"}, "value": "#dde3e1"}}},
       {"transform": [{"filter": "datum.g === 'KO'"}],
        "mark": {"type": "bar", "stroke": "#000", "strokeWidth": 2.5, "fill": {"expr": "hatchLow"}},
        "encoding": {"x": {"field": "p", "type": "nominal"}, "xOffset": {"field": "g", "type": "nominal"}, "y": {"field": "v", "type": "quantitative"}}},
       {"mark": {"type": "rule", "color": "#000", "strokeWidth": 2.5},
        "encoding": {"x": {"field": "p", "type": "nominal"}, "xOffset": {"field": "g", "type": "nominal"}, "y": {"field": "v", "type": "quantitative"}, "y2": {"field": "hi"}}},
       {"mark": {"type": "tick", "color": "#000", "thickness": 2.5, "size": 9, "opacity": 1},
        "encoding": {"x": {"field": "p", "type": "nominal"}, "xOffset": {"field": "g", "type": "nominal"}, "y": {"field": "hi", "type": "quantitative"}}}
      ]},
     {"data": {"name": "legG"},
      "encoding": {
       "x": {"datum": "Dark (Day 2)", "type": "nominal", "bandPosition": 0.87},
       "y": {"field": "k", "type": "nominal", "scale": {"type": "point", "domain": ["WT2", "WT3", "KO"], "range": [-30.5, 15.5], "padding": 0}, "axis": null}},
      "layer": [
       {"transform": [{"filter": "datum.k !== 'KO'"}],
        "mark": {"type": "point", "shape": "M-1,-0.54H1V0.54H-1Z", "size": 676, "filled": true, "stroke": "#000", "strokeWidth": 2, "opacity": 1},
        "encoding": {"fill": {"condition": {"test": "datum.k === 'WT2'", "value": "#0d0d0d"}, "value": "#dde3e1"}}},
       {"transform": [{"filter": "datum.k === 'KO'"}],
        "mark": {"type": "point", "shape": "M-1,-0.54H1V0.54H-1Z", "size": 676, "filled": true, "stroke": "#000", "strokeWidth": 2, "opacity": 1, "fill": {"expr": "hatchSw"}}},
       {"mark": {"type": "text", "fontSize": 16, "align": "left", "baseline": "middle", "dx": 17, "dy": 1},
        "encoding": {"text": {"field": "t"}}}
      ]}
    ]}
   ], "spacing": 95, "bounds": "flush"}
  ], "spacing": 0, "bounds": "flush"}
 ], "spacing": 5}
]
}
